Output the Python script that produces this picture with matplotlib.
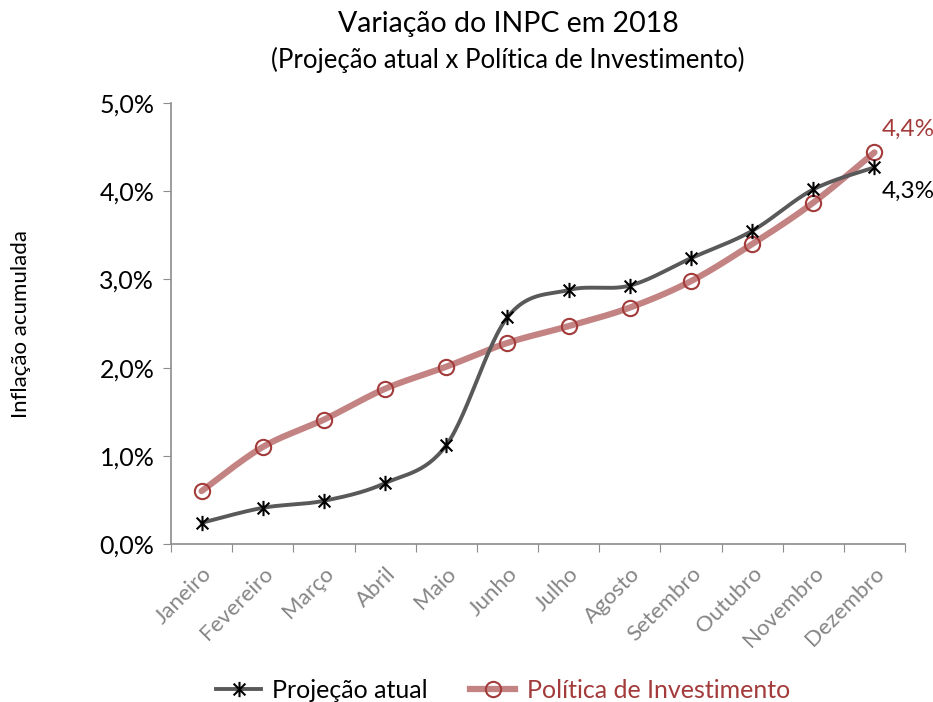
import matplotlib
matplotlib.use('Agg')
import matplotlib.pyplot as plt
import numpy as np
from matplotlib.path import Path
from matplotlib.ticker import FuncFormatter, FixedLocator

plt.rcParams['font.family'] = ['Lato', 'DejaVu Sans']

# INPC acumulado 2018 (%)
meses = ['Janeiro', 'Fevereiro', 'Março', 'Abril', 'Maio', 'Junho', 'Julho',
         'Agosto', 'Setembro', 'Outubro', 'Novembro', 'Dezembro']
projecao = [0.24, 0.41, 0.49, 0.69, 1.12, 2.57, 2.88, 2.93, 3.24, 3.55, 4.02, 4.27]
politica = [0.60, 1.10, 1.41, 1.76, 2.01, 2.28, 2.47, 2.68, 2.98, 3.40, 3.87, 4.44]

cor_proj = '#595959'
cor_pol = '#C48383'
cor_pol_txt = '#A33B3B'

# marcador estrela do Excel: X com traço vertical
estrela = Path([(-1, -1), (1, 1), (-1, 1), (1, -1), (0, -1.3), (0, 1.3)],
               [Path.MOVETO, Path.LINETO, Path.MOVETO, Path.LINETO, Path.MOVETO, Path.LINETO])


def suavizar(x, y, n=30):
    # curva suavizada tipo Catmull-Rom (como a linha suavizada do Excel)
    x = np.asarray(x, float)
    y = np.asarray(y, float)
    px = np.concatenate([[x[0]], x, [x[-1]]])
    py = np.concatenate([[y[0]], y, [y[-1]]])
    xs, ys = [], []
    t = np.linspace(0, 1, n)
    for i in range(1, len(px) - 2):
        p0, p1, p2, p3 = [np.array([px[j], py[j]]) for j in (i - 1, i, i + 1, i + 2)]
        c1 = p1 + (p2 - p0) / 6
        c2 = p2 - (p3 - p1) / 6
        pts = ((1 - t) ** 3)[:, None] * p1 + (3 * (1 - t) ** 2 * t)[:, None] * c1 \
            + (3 * (1 - t) * t ** 2)[:, None] * c2 + (t ** 3)[:, None] * p2
        xs.extend(pts[:, 0])
        ys.extend(pts[:, 1])
    return np.array(xs), np.array(ys)


fig = plt.figure(figsize=(9.33, 7.02), dpi=100)
ax = fig.add_axes([171 / 933, 158 / 702, 734 / 933, 441 / 702])

x = np.arange(len(meses))
sx, sy = suavizar(x, politica)
ax.plot(sx, sy, color=cor_pol, lw=4.5, solid_capstyle='round', zorder=2)
ax.plot(x, politica, ls='none', marker='o', ms=11, mfc='none', mec=cor_pol_txt, mew=1.5, zorder=3)
sx, sy = suavizar(x, projecao)
ax.plot(sx, sy, color=cor_proj, lw=2.8, solid_capstyle='round', zorder=4)
ax.plot(x, projecao, ls='none', marker=estrela, ms=11, color='black', mew=1.5, zorder=5)

ax.set_xlim(-0.5, len(meses) - 0.5)
ax.set_ylim(0, 5)
ax.xaxis.set_major_locator(FixedLocator(np.arange(-0.5, len(meses), 1)))
ax.set_xticklabels([])
ax.set_xticks(x, minor=True)
ax.set_xticklabels(meses, minor=True, rotation=45, ha='right', rotation_mode='anchor',
                   fontsize=16, color='#858585')
ax.tick_params(axis='x', which='minor', length=0, pad=14)
ax.tick_params(axis='x', which='major', length=6, color='#8C8C8C')
ax.set_yticks(np.arange(0, 5.01, 1))
ax.yaxis.set_major_formatter(FuncFormatter(lambda v, p: f'{v:.1f}%'.replace('.', ',')))
ax.tick_params(axis='y', length=6, color='#8C8C8C', labelsize=18, pad=6)

for s in ['top', 'right']:
    ax.spines[s].set_visible(False)
for s in ['left', 'bottom']:
    ax.spines[s].set_color('#8C8C8C')
    ax.spines[s].set_linewidth(1.2)

ax.set_ylabel('Inflação acumulada', fontsize=16)
ax.yaxis.set_label_coords((31 - 171) / 734, 0.5)

ax.annotate(f'{politica[-1]:.1f}%'.replace('.', ','), (x[-1], politica[-1]),
            xytext=(5, 12), textcoords='offset points', fontsize=17.5, color=cor_pol_txt)
ax.annotate(f'{projecao[-1]:.1f}%'.replace('.', ','), (x[-1], projecao[-1]),
            xytext=(5, -22), textcoords='offset points', fontsize=17.5, color='black')

fig.text(508 / 933, 1 - 24 / 702, 'Variação do INPC em 2018', ha='center', va='center', fontsize=20.5)
fig.text(508 / 933, 1 - 60 / 702, '(Projeção atual x Política de Investimento)',
         ha='center', va='center', fontsize=18.5)

h1, = plt.plot([], [], color=cor_proj, lw=2.8, marker=estrela, ms=11, mec='black', mew=1.5)
h2, = plt.plot([], [], color=cor_pol, lw=4.5, marker='o', ms=11, mfc='none', mec=cor_pol_txt, mew=1.5)
leg = fig.legend([h1, h2], ['Projeção atual', 'Política de Investimento'], loc='center',
                 bbox_to_anchor=(503 / 933, 12 / 702), ncol=2, frameon=False, fontsize=18,
                 handlelength=1.8, columnspacing=1.7, handletextpad=0.45)
leg.get_texts()[1].set_color(cor_pol_txt)

fig.savefig('out.png', dpi=100)
